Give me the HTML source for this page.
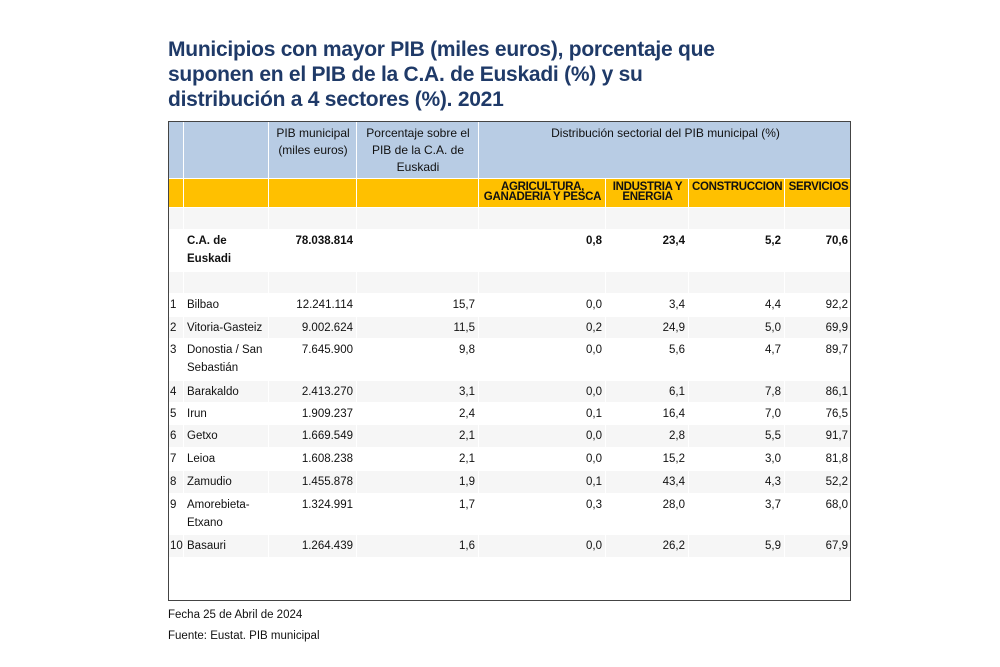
<!DOCTYPE html>
<html><head><meta charset="utf-8"><style>
body{margin:0;width:1000px;height:667px;background:#fff;font-family:"Liberation Sans",Arial,sans-serif;position:relative;overflow:hidden}
h1{position:absolute;left:168px;top:37px;margin:0;font-size:21px;line-height:25px;font-weight:bold;color:#1f3a68;letter-spacing:-0.25px}
.box{position:absolute;left:168px;top:121px;width:681px;height:478px;border:1px solid #444;overflow:hidden}
table{border-collapse:collapse;table-layout:fixed;width:683px;margin:-1px;font-size:11.5px;color:#111}
td{border:1px solid #fff;padding:2px 2px 0 3px;vertical-align:top;background:#f6f6f6;line-height:18px;overflow:hidden;white-space:normal}
tr.h td{background:#b8cce4;text-align:center;line-height:17px;padding-top:3px;font-size:12px}
tr.o td{background:#ffc000;font-weight:bold;text-align:center;line-height:9.5px;letter-spacing:-0.3px;padding-top:4px;font-size:11.5px;white-space:nowrap}
td.r{text-align:right;padding-right:3px}
tr.w td{background:#fff}
tr.b td{font-weight:bold}
td.n{padding-left:1px;padding-right:0}
.f{position:absolute;left:168px;font-size:11.5px;color:#111}
</style></head><body>
<h1>Municipios con mayor PIB (miles euros), porcentaje que<br>suponen en el PIB de la C.A. de Euskadi (%) y su<br>distribución a 4 sectores (%). 2021</h1>
<div class="box">
<table>
<colgroup><col style="width:15px"><col style="width:85px"><col style="width:88px"><col style="width:122px"><col style="width:127px"><col style="width:83px"><col style="width:96px"><col style="width:67px"></colgroup>
<tr class="h" style="height:57px"><td></td><td></td><td>PIB municipal (miles euros)</td><td>Porcentaje sobre el PIB de la C.A. de Euskadi</td><td colspan="4">Distribución sectorial del PIB municipal (%)</td></tr>
<tr class="o" style="height:29px"><td></td><td></td><td></td><td></td><td>AGRICULTURA,<br>GANADERIA Y PESCA</td><td>INDUSTRIA Y<br>ENERGIA</td><td>CONSTRUCCION</td><td>SERVICIOS</td></tr>
<tr style="height:22px"><td></td><td></td><td></td><td></td><td></td><td></td><td></td><td></td></tr>
<tr class="b w" style="height:42px"><td></td><td>C.A. de Euskadi</td><td class="r">78.038.814</td><td></td><td class="r">0,8</td><td class="r">23,4</td><td class="r">5,2</td><td class="r">70,6</td></tr>
<tr style="height:22px"><td></td><td></td><td></td><td></td><td></td><td></td><td></td><td></td></tr>
<tr class="w" style="height:23px"><td class="n">1</td><td>Bilbao</td><td class="r">12.241.114</td><td class="r">15,7</td><td class="r">0,0</td><td class="r">3,4</td><td class="r">4,4</td><td class="r">92,2</td></tr>
<tr style="height:22px"><td class="n">2</td><td>Vitoria-Gasteiz</td><td class="r">9.002.624</td><td class="r">11,5</td><td class="r">0,2</td><td class="r">24,9</td><td class="r">5,0</td><td class="r">69,9</td></tr>
<tr class="w" style="height:42px"><td class="n">3</td><td>Donostia / San Sebastián</td><td class="r">7.645.900</td><td class="r">9,8</td><td class="r">0,0</td><td class="r">5,6</td><td class="r">4,7</td><td class="r">89,7</td></tr>
<tr style="height:22px"><td class="n">4</td><td>Barakaldo</td><td class="r">2.413.270</td><td class="r">3,1</td><td class="r">0,0</td><td class="r">6,1</td><td class="r">7,8</td><td class="r">86,1</td></tr>
<tr class="w" style="height:22px"><td class="n">5</td><td>Irun</td><td class="r">1.909.237</td><td class="r">2,4</td><td class="r">0,1</td><td class="r">16,4</td><td class="r">7,0</td><td class="r">76,5</td></tr>
<tr style="height:23px"><td class="n">6</td><td>Getxo</td><td class="r">1.669.549</td><td class="r">2,1</td><td class="r">0,0</td><td class="r">2,8</td><td class="r">5,5</td><td class="r">91,7</td></tr>
<tr class="w" style="height:23px"><td class="n">7</td><td>Leioa</td><td class="r">1.608.238</td><td class="r">2,1</td><td class="r">0,0</td><td class="r">15,2</td><td class="r">3,0</td><td class="r">81,8</td></tr>
<tr style="height:23px"><td class="n">8</td><td>Zamudio</td><td class="r">1.455.878</td><td class="r">1,9</td><td class="r">0,1</td><td class="r">43,4</td><td class="r">4,3</td><td class="r">52,2</td></tr>
<tr class="w" style="height:41px"><td class="n">9</td><td>Amorebieta-Etxano</td><td class="r">1.324.991</td><td class="r">1,7</td><td class="r">0,3</td><td class="r">28,0</td><td class="r">3,7</td><td class="r">68,0</td></tr>
<tr style="height:23px"><td class="n">10</td><td>Basauri</td><td class="r">1.264.439</td><td class="r">1,6</td><td class="r">0,0</td><td class="r">26,2</td><td class="r">5,9</td><td class="r">67,9</td></tr>
<tr class="w" style="height:42px"><td></td><td></td><td></td><td></td><td></td><td></td><td></td><td></td></tr>
</table>
</div>
<div class="f" style="top:609px">Fecha 25 de Abril de 2024</div>
<div class="f" style="top:630px">Fuente: Eustat. PIB municipal</div>
</body></html>
